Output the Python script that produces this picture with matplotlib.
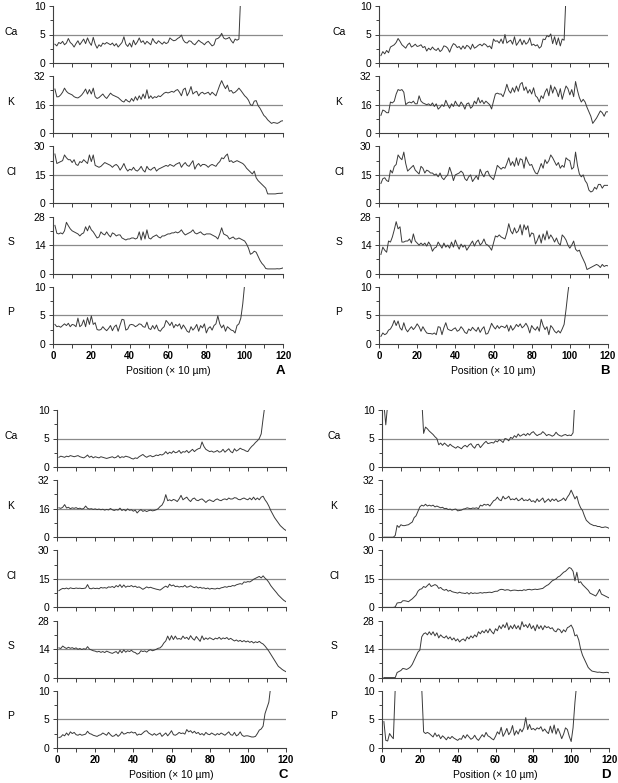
#!/usr/bin/env python3
"""
Element line scans (Ca, K, Cl, S, P) across four sections A-D.
Counts vs position (x 10 um), one stacked strip per element, grey line at half scale.
"""
import numpy as np
import matplotlib
matplotlib.use("Agg")
import matplotlib.pyplot as plt

NA = np.nan  # off-scale (trace runs above the top of the strip)

POS = list(range(1, 121))  # position (x 10 um)
ELEMENTS = ["Ca", "K", "Cl", "S", "P"]
Y_TOP = [10, 32, 30, 28, 10]
X_TICKS = list(range(0, 121, 10))
PANEL_LETTERS = ["A", "B", "C", "D"]

# ── panel A ─────────────────────────────────────────────────────────────────
A_CA = [3.3, 3.0, 3.6, 3.4, 3.8, 3.2, 3.5, 4.3, 3.6, 3.3,
        2.8, 3.4, 3.9, 3.2, 3.7, 4.2, 3.4, 4.4, 3.6, 3.1,
        4.5, 3.3, 2.6, 3.2, 2.9, 3.5, 3.3, 3.6, 3.4, 3.2,
        3.5, 3.0, 3.4, 2.8, 3.2, 3.6, 4.6, 3.3, 2.9, 3.5,
        2.8, 4.0, 3.2, 3.7, 4.4, 3.6, 3.9, 3.3, 3.8, 3.5,
        3.2, 4.3, 3.7, 3.4, 3.9, 3.6, 3.3, 3.7, 3.4, 3.6,
        4.4, 4.1, 3.9, 4.0, 4.3, 4.5, 4.9, 4.0, 3.6, 3.5,
        3.9, 3.8, 3.4, 3.2, 3.6, 4.0, 3.7, 3.5, 3.2, 3.6,
        3.8, 3.4, 3.0, 3.2, 4.2, 4.3, 4.6, 5.2, 4.4, 4.2,
        4.3, 4.5, 3.9, 3.5, 4.2, 4.0, 4.2, 12.5, NA, NA,
        NA, NA, NA, NA, NA, NA, NA, NA, NA, NA,
        NA, NA, NA, NA, NA, NA, NA, NA, NA, NA]
A_K = [24.8, 20.4, 20.5, 21.5, 23.0, 25.3, 23.5, 22.5, 22.0, 21.5,
       20.5, 20.0, 19.8, 20.5, 21.5, 23.0, 24.8, 22.0, 24.5, 22.0,
       25.3, 20.5, 19.5, 20.0, 21.0, 22.0, 20.5, 19.5, 21.0, 22.5,
       21.5, 21.0, 20.5, 20.0, 19.0, 18.0, 17.5, 19.0, 18.0, 17.5,
       19.5, 18.0, 20.5, 18.5, 21.0, 19.0, 22.0, 19.5, 24.4, 19.5,
       21.0, 19.5, 20.5, 20.0, 21.0, 20.5, 21.5, 22.5, 23.0, 22.6,
       23.0, 23.5, 23.0, 24.0, 24.5, 23.0, 21.0, 24.5, 25.3, 21.0,
       23.0, 26.2, 22.0, 23.0, 23.5, 21.0, 22.5, 23.0, 22.0, 22.5,
       23.0, 21.5, 23.0, 22.0, 21.0, 24.0, 27.0, 29.5, 27.0, 25.0,
       27.0, 23.5, 24.0, 22.5, 23.0, 24.0, 25.3, 24.0, 22.5, 21.0,
       20.0, 18.5, 16.0, 15.5, 18.0, 18.3, 15.5, 14.0, 12.0, 10.0,
       9.0, 7.5, 6.5, 5.5, 6.0, 5.8, 5.5, 6.0, 6.8, 7.0]
A_CL = [26.0, 21.0, 21.5, 22.0, 22.5, 25.5, 24.0, 23.0, 23.0, 21.5,
        23.0, 20.5, 20.0, 22.0, 21.5, 23.0, 22.0, 21.0, 25.5, 22.0,
        25.5, 20.0, 19.5, 19.0, 19.5, 20.5, 21.5, 21.0, 20.5, 20.0,
        19.0, 20.0, 20.5, 19.5, 17.5, 19.0, 21.0, 18.5, 17.0, 18.0,
        17.5, 19.0, 17.5, 17.0, 18.0, 19.5, 17.5, 16.5, 19.5, 18.0,
        17.5, 18.5, 19.0, 17.0, 18.0, 18.5, 19.0, 19.5, 20.0, 19.5,
        20.5, 20.0, 19.5, 20.5, 21.0, 21.5, 19.0, 20.5, 21.5, 20.0,
        19.5, 21.0, 22.5, 18.0, 20.0, 21.0, 19.5, 20.5, 20.5, 20.0,
        19.0, 20.0, 20.5, 20.0, 19.5, 21.0, 22.0, 24.0, 23.5, 25.0,
        26.0, 22.0, 22.5, 21.5, 22.0, 22.5, 22.0, 21.5, 21.0, 20.0,
        18.5, 17.5, 16.5, 15.5, 17.0, 13.5, 12.0, 11.0, 10.0, 9.0,
        8.0, 5.0, 5.0, 5.0, 5.0, 5.0, 5.2, 5.3, 5.3, 5.5]
A_S = [23.7, 19.8, 19.5, 20.0, 19.5, 21.0, 25.2, 23.5, 22.0, 21.0,
       20.5, 20.0, 19.5, 18.5, 19.5, 20.0, 23.0, 21.0, 23.5, 21.5,
       20.5, 19.0, 17.5, 18.0, 20.5, 19.5, 19.0, 20.5, 19.0, 18.0,
       20.0, 19.5, 18.5, 19.0, 19.0, 17.5, 17.0, 16.5, 17.0, 17.0,
       17.5, 17.5, 17.0, 17.5, 20.5, 16.5, 20.5, 17.0, 21.5, 17.5,
       17.0, 18.0, 18.5, 19.0, 18.0, 17.5, 18.5, 18.5, 19.0, 19.5,
       19.5, 20.0, 20.0, 20.5, 20.0, 20.5, 21.5, 20.0, 19.0, 19.5,
       20.0, 20.5, 21.5, 20.0, 19.5, 20.0, 20.5, 19.5, 19.0, 19.5,
       19.5, 19.5, 19.0, 18.5, 18.0, 17.0, 19.5, 22.5, 19.5, 19.0,
       18.5, 17.0, 17.5, 18.0, 17.0, 17.0, 17.5, 17.0, 16.5, 16.0,
       14.5, 12.5, 9.5, 10.0, 11.0, 10.5, 8.5, 6.5, 5.0, 4.0,
       2.5, 2.3, 2.3, 2.3, 2.3, 2.3, 2.4, 2.3, 2.5, 2.8]
A_P = [3.4, 3.0, 3.1, 2.9, 3.2, 3.5, 3.2, 3.6, 3.0, 3.4,
       3.3, 3.0, 4.5, 3.0, 3.3, 4.2, 3.0, 4.6, 3.4, 4.9,
       3.4, 3.7, 2.5, 2.4, 2.5, 3.0, 2.6, 2.3, 2.7, 3.2,
       2.3, 3.0, 3.3, 2.2, 3.3, 4.3, 4.2, 2.4, 2.6, 3.3,
       3.4, 3.3, 3.0, 3.2, 3.5, 3.4, 3.0, 2.9, 3.8, 2.7,
       2.5, 3.2, 2.6, 3.3, 2.4, 2.2, 2.7, 3.0, 4.1, 3.7,
       3.2, 3.8, 2.8, 3.4, 3.1, 3.5, 2.6, 3.3, 2.8, 2.2,
       2.0, 3.0, 2.4, 2.8, 3.4, 2.2, 3.2, 2.8, 3.5, 1.9,
       2.7, 3.0, 2.4, 3.2, 3.5, 4.9, 3.5, 2.8, 3.3, 2.2,
       3.0, 2.7, 2.4, 2.3, 1.9, 3.2, 3.5, 4.5, 7.0, 10.5,
       NA, NA, NA, NA, NA, NA, NA, NA, NA, NA,
       NA, NA, NA, NA, NA, NA, NA, NA, NA, NA]

# ── panel B ─────────────────────────────────────────────────────────────────
B_CA = [1.3, 2.0, 1.6, 2.2, 1.8, 2.8, 3.0, 3.2, 3.6, 4.3,
        3.8, 3.2, 2.9, 2.6, 3.2, 3.5, 2.8, 3.0, 3.3, 2.9,
        3.0, 3.2, 2.7, 2.9, 2.1, 2.6, 2.3, 2.8, 2.4, 2.2,
        2.6, 2.0, 2.3, 3.0, 2.9, 2.6, 1.9, 2.8, 3.4, 3.2,
        2.7, 2.9, 2.4, 3.0, 2.5, 3.1, 2.9, 2.4, 3.3, 2.6,
        2.8, 3.1, 3.3, 3.0, 3.4, 3.2, 2.8, 3.0, 2.5, 4.2,
        3.8, 3.9, 3.5, 4.2, 3.4, 5.0, 3.5, 3.8, 4.0, 3.3,
        4.6, 3.1, 3.6, 4.2, 3.2, 4.0, 3.3, 3.6, 4.4, 3.1,
        3.3, 3.0, 3.2, 2.6, 2.9, 4.2, 4.1, 4.8, 4.6, 5.1,
        3.4, 4.6, 3.2, 4.4, 3.0, 4.2, 4.0, 12.0, NA, NA,
        NA, NA, NA, NA, NA, NA, NA, NA, NA, NA,
        NA, NA, NA, NA, NA, NA, NA, NA, NA, NA]
B_K = [10.0, 13.0, 12.5, 11.5, 11.5, 17.5, 17.0, 18.0, 22.0, 24.5,
       24.0, 24.5, 23.0, 16.0, 17.0, 17.5, 17.0, 18.0, 16.5, 16.5,
       21.0, 18.0, 17.0, 16.5, 16.0, 16.5, 15.5, 17.0, 15.0, 16.5,
       13.5, 14.5, 16.0, 15.0, 18.5, 16.0, 14.0, 16.5, 15.0, 18.0,
       16.0, 15.0, 17.5, 16.0, 13.5, 16.5, 17.0, 14.0, 15.0, 18.0,
       16.5, 20.0, 17.0, 18.5, 16.5, 18.0, 17.0, 16.0, 13.6, 18.0,
       22.0, 22.5, 22.0, 22.0, 20.5, 23.5, 27.5, 24.0, 22.5, 25.5,
       23.0, 26.5, 23.5, 27.5, 28.5, 24.0, 26.0, 22.5, 24.5, 22.0,
       25.5, 21.0, 20.0, 17.5, 21.0, 19.5, 23.0, 25.0, 21.0, 27.0,
       22.5, 26.0, 24.0, 20.5, 25.0, 19.0, 23.0, 26.5, 25.0, 21.5,
       24.5, 20.5, 29.0, 24.0, 20.0, 17.5, 19.0, 17.5, 14.5, 12.0,
       9.5, 5.5, 7.0, 8.5, 10.5, 12.5, 11.5, 9.5, 12.0, 12.0]
B_CL = [10.5, 13.0, 13.5, 12.0, 11.5, 17.5, 16.0, 19.5, 20.5, 25.5,
        24.0, 23.0, 27.0, 21.0, 17.0, 18.0, 19.0, 20.0, 17.5, 16.5,
        15.5, 19.5, 18.5, 16.0, 17.5, 17.0, 16.0, 16.0, 15.0, 15.5,
        14.0, 16.0, 13.5, 12.5, 14.0, 15.0, 19.0, 16.0, 12.0, 15.0,
        15.5, 16.0, 17.0, 16.0, 13.0, 12.0, 14.0, 15.0, 11.5, 13.0,
        14.5, 12.5, 18.0, 15.5, 14.0, 16.5, 17.0, 14.5, 13.5, 12.5,
        16.0, 20.0, 19.0, 18.0, 19.0, 18.5, 21.0, 24.0, 20.0, 22.0,
        19.5, 24.0, 20.0, 23.5, 23.0, 18.5, 24.5, 22.0, 20.0, 20.5,
        18.0, 16.0, 15.5, 18.0, 21.0, 18.5, 23.0, 21.0, 22.5, 25.5,
        24.0, 22.0, 20.0, 21.5, 18.5, 20.0, 19.0, 24.0, 23.0, 22.5,
        18.0, 19.0, 27.0, 20.0, 15.5, 14.0, 15.0, 12.0, 10.5, 7.0,
        6.0, 6.5, 8.5, 7.5, 10.0, 10.0, 8.0, 9.5, 9.5, 9.5]
B_S = [9.4, 13.0, 11.5, 10.5, 16.0, 15.5, 18.0, 21.5, 25.5, 22.0,
       23.0, 15.5, 15.5, 16.0, 16.0, 17.0, 15.0, 19.5, 16.0, 15.0,
       14.0, 15.0, 14.0, 15.0, 13.5, 15.5, 14.0, 11.0, 12.5, 13.0,
       15.5, 14.0, 12.5, 15.0, 13.0, 14.0, 12.5, 15.5, 13.0, 16.5,
       14.0, 12.0, 14.5, 13.0, 14.0, 11.5, 13.0, 14.5, 16.0, 13.5,
       15.5, 16.5, 14.0, 15.0, 17.0, 14.5, 14.0, 13.0, 11.5, 15.0,
       18.5, 18.0, 19.0, 18.0, 17.5, 17.0, 20.0, 24.5, 21.0, 19.5,
       22.5, 20.0, 21.0, 24.0, 19.0, 24.0, 21.5, 23.5, 18.0, 20.0,
       19.5, 14.5, 16.5, 19.0, 15.0, 19.5, 16.5, 21.0, 17.0, 19.0,
       17.5, 15.5, 17.5, 15.0, 14.0, 19.0, 18.0, 16.5, 14.0, 12.5,
       14.0, 16.0, 12.0, 11.0, 11.5, 9.0, 7.0, 5.0, 2.0, 2.5,
       3.0, 3.5, 4.0, 4.5, 4.0, 3.0, 4.5, 3.5, 4.0, 3.8]
B_P = [1.3, 1.9, 1.6, 1.8, 2.4, 2.6, 3.2, 4.1, 3.2, 4.0,
       2.8, 2.4, 3.7, 2.6, 2.1, 2.6, 3.0, 2.5, 2.9, 3.5,
       3.0, 2.2, 3.0, 2.4, 1.9, 1.8, 1.8, 1.7, 1.9, 1.6,
       3.0, 2.9, 1.6, 2.8, 3.7, 2.6, 2.4, 2.3, 2.6, 2.8,
       2.2, 2.4, 3.0, 2.6, 2.0, 1.8, 2.6, 2.3, 2.9, 2.5,
       2.2, 2.9, 2.0, 2.6, 3.0, 1.7, 1.8, 2.6, 3.6, 3.0,
       2.6, 3.2, 2.7, 3.1, 3.0, 2.8, 3.3, 2.2, 3.2, 2.4,
       2.8, 3.4, 3.0, 3.5, 2.8, 3.1, 3.6, 3.0, 1.9, 3.2,
       2.7, 2.4, 3.0, 2.2, 4.3, 3.2, 2.5, 3.0, 1.6, 3.2,
       2.8, 2.2, 1.9, 2.3, 1.9, 2.6, 3.4, 6.0, 9.0, 11.5,
       NA, NA, NA, NA, NA, NA, NA, NA, NA, NA,
       NA, NA, NA, NA, NA, NA, NA, NA, NA, NA]

# ── panel C ─────────────────────────────────────────────────────────────────
C_CA = [1.7, 1.9, 1.8, 1.7, 1.9, 1.8, 2.0, 1.9, 1.8, 1.9,
        2.0, 1.8, 1.7, 1.6, 1.8, 2.1, 1.7, 1.9, 1.6, 1.8,
        1.7, 1.6, 1.8, 1.7, 1.6, 1.5, 1.6, 1.7, 1.8, 1.6,
        1.7, 2.0, 1.6, 1.8, 1.7, 1.9, 1.8, 1.7, 1.5, 1.4,
        1.6, 1.5, 1.8, 2.0, 2.2, 1.9, 1.7, 1.9, 2.0, 1.8,
        1.9, 2.1, 2.0, 2.2, 2.1, 2.3, 2.7, 2.3, 2.6, 2.4,
        2.8, 2.5, 2.6, 2.9, 2.4, 2.7, 2.6, 2.9, 2.5, 2.8,
        3.1, 2.7, 3.0, 3.2, 3.3, 4.4, 3.6, 3.1, 2.9, 2.7,
        2.8, 2.6, 2.7, 2.9, 2.6, 2.7, 3.1, 2.6, 2.9, 3.2,
        2.7, 2.5, 3.2, 2.8, 3.0, 3.3, 3.1, 3.0, 2.8, 2.7,
        3.2, 3.6, 3.9, 4.3, 4.6, 5.0, 5.8, 8.5, 11.0, NA,
        NA, NA, NA, NA, NA, NA, NA, NA, NA, NA]
C_K = [16.5, 16.2, 16.8, 18.3, 16.4, 16.8, 16.0, 16.5, 16.2, 16.6,
       16.0, 16.3, 15.8, 16.1, 17.5, 16.2, 15.8, 16.0, 15.6, 15.9,
       15.5, 15.8, 15.4, 15.7, 15.2, 15.6, 15.3, 16.1, 15.4, 15.0,
       15.5, 15.2, 16.3, 15.0, 15.6, 14.8, 15.9, 15.1, 15.4, 14.6,
       15.2, 13.6, 14.8, 15.5, 14.5, 15.0, 14.4, 14.9, 15.2, 14.8,
       15.0, 15.4, 16.0, 17.2, 18.0, 20.0, 23.9, 20.5, 21.0, 20.4,
       21.2, 20.8, 20.0, 21.5, 23.5, 21.0, 21.8, 22.5, 21.0, 20.0,
       21.5, 22.0, 20.8, 20.5, 21.2, 21.5, 20.6, 19.5, 20.5, 21.0,
       20.4, 20.0, 21.0, 21.5, 20.8, 20.5, 21.2, 21.5, 21.0, 22.0,
       21.4, 21.5, 22.2, 22.0, 21.2, 21.0, 21.6, 22.0, 21.4, 21.0,
       22.0, 21.0, 22.5, 21.0, 22.0, 21.0, 22.5, 23.0, 21.0, 19.5,
       17.5, 15.0, 13.0, 11.0, 9.5, 8.0, 6.5, 5.5, 4.5, 3.8]
C_CL = [8.8, 9.5, 10.0, 9.8, 10.2, 9.7, 10.3, 10.0, 9.9, 10.2,
        10.0, 10.1, 9.9, 10.0, 10.2, 12.0, 10.0, 9.8, 10.2, 9.9,
        10.1, 9.8, 10.5, 10.2, 10.4, 10.1, 10.8, 10.6, 11.0, 10.4,
        11.5, 10.8, 12.0, 10.5, 11.8, 10.6, 11.2, 11.0, 11.5, 10.8,
        11.2, 10.5, 10.8, 10.2, 9.5, 10.1, 10.8, 10.3, 10.6, 10.2,
        9.9, 9.6, 9.4, 9.1, 9.8, 10.6, 11.2, 10.5, 12.2, 11.3,
        11.8, 10.9, 11.2, 10.7, 11.0, 10.8, 11.6, 10.6, 10.9, 11.4,
        10.8, 10.4, 10.9, 10.2, 10.6, 10.1, 10.3, 9.8, 10.2, 9.6,
        10.0, 9.8, 9.7, 10.1, 9.8, 10.3, 10.5, 10.9, 10.6, 11.1,
        11.0, 11.5, 11.3, 11.9, 12.2, 12.5, 12.2, 13.4, 13.2, 13.6,
        13.4, 14.0, 14.8, 15.3, 15.8, 16.3, 15.5, 16.6, 15.4, 14.5,
        13.2, 11.5, 10.2, 9.0, 7.8, 6.5, 5.5, 4.5, 3.6, 3.0]
C_S = [14.6, 14.3, 15.5, 14.8, 14.3, 14.9, 14.4, 14.7, 14.2, 14.6,
       13.9, 14.3, 13.8, 14.2, 13.9, 15.2, 14.0, 13.6, 13.2, 13.0,
       12.6, 12.9, 12.4, 12.8, 12.3, 13.0, 12.6, 12.2, 11.9, 12.4,
       12.8, 11.8, 13.4, 12.2, 13.6, 12.5, 13.2, 12.8, 13.4, 12.6,
       12.3, 11.5, 11.9, 13.2, 12.8, 13.1, 12.5, 13.3, 13.7, 13.2,
       13.5, 13.9, 14.4, 14.6, 15.5, 17.0, 18.0, 20.4, 18.4, 20.6,
       18.7, 20.4, 18.9, 19.2, 18.8, 20.4, 19.2, 19.8, 18.7, 20.6,
       19.2, 18.4, 20.2, 19.0, 17.8, 20.5, 18.6, 19.5, 18.8, 19.6,
       19.1, 18.6, 19.4, 19.0, 19.8, 18.8, 19.5, 19.1, 19.7, 18.7,
       19.3, 18.6, 18.0, 18.5, 17.8, 18.3, 17.6, 18.2, 17.5, 18.0,
       17.3, 17.8, 17.0, 17.6, 17.2, 17.8, 17.0, 16.5, 15.5, 14.3,
       13.0, 11.5, 10.0, 8.5, 7.0, 5.5, 4.8, 4.0, 3.4, 2.9]
C_P = [1.8, 1.9, 2.3, 2.1, 2.6, 2.2, 2.8, 2.5, 2.7, 2.3,
       2.2, 2.4, 2.2, 2.3, 2.4, 2.9, 2.5, 2.4, 2.2, 2.1,
       2.0, 2.2, 2.3, 2.6, 2.4, 2.2, 2.7, 2.3, 2.0, 2.1,
       2.4, 2.0, 2.3, 2.8, 2.4, 2.5, 2.7, 2.6, 2.8, 2.6,
       2.7, 2.2, 2.4, 2.3, 2.6, 2.9, 3.0, 2.6, 2.4, 2.2,
       2.5, 2.2, 2.4, 2.6, 2.0, 2.3, 2.6, 2.1, 2.5, 3.0,
       2.3, 2.2, 2.4, 2.7, 2.5, 2.6, 2.4, 3.2, 2.8, 3.0,
       2.6, 2.9, 2.5, 2.7, 2.3, 2.5, 2.2, 2.7, 2.4, 2.3,
       2.6, 2.4, 2.2, 2.5, 2.3, 2.6, 2.4, 2.2, 2.5, 2.8,
       2.3, 2.2, 2.7, 2.1, 2.3, 2.8, 2.2, 2.0, 2.1, 2.1,
       2.0, 1.9, 1.9, 2.0, 2.5, 3.1, 3.3, 3.8, 6.0, 7.0,
       8.0, 10.8, NA, NA, NA, NA, NA, NA, NA, NA]

# ── panel D ─────────────────────────────────────────────────────────────────
D_CA = [11.0, 7.4, 11.0, NA, NA, NA, NA, NA, NA, NA,
        NA, NA, NA, NA, NA, NA, NA, NA, NA, NA,
        12.0, 5.9, 7.0, 6.7, 6.3, 6.0, 5.7, 5.3, 5.0, 3.9,
        4.2, 3.8, 4.2, 3.9, 3.6, 4.0, 3.7, 3.5, 3.3, 3.6,
        3.4, 3.2, 3.6, 3.8, 3.5, 3.9, 4.1, 3.6, 3.3, 3.9,
        4.0, 3.4, 3.8, 4.2, 4.5, 4.1, 4.2, 4.3, 4.2, 4.6,
        4.4, 4.8, 4.6, 4.3, 5.0, 4.9, 4.6, 5.2, 5.0, 5.5,
        5.2, 5.8, 5.4, 5.6, 5.8, 5.5, 5.9, 5.6, 6.0, 6.2,
        5.8, 5.5, 5.7, 5.8, 6.2, 5.9, 5.5, 5.7, 5.6, 5.4,
        5.6, 6.1, 5.7, 5.5, 5.4, 5.6, 5.7, 5.5, 5.6, 5.5,
        6.0, 12.0, NA, NA, NA, NA, NA, NA, NA, NA,
        NA, NA, NA, NA, NA, NA, NA, NA, NA, NA]
D_K = [0.0, 0.0, 0.0, 0.0, 0.0, 0.0, 1.0, 6.6, 5.5, 7.0,
       6.5, 6.5, 6.8, 7.0, 7.8, 8.5, 11.0, 12.0, 14.5, 17.0,
       18.0, 17.5, 18.5, 17.5, 18.0, 17.5, 18.0, 17.0, 17.5, 17.0,
       16.5, 16.8, 16.0, 16.2, 15.5, 15.8, 15.2, 15.6, 15.8, 14.8,
       15.0, 15.2, 15.8, 16.0, 16.5, 16.2, 16.0, 16.4, 16.2, 16.5,
       16.0, 18.0, 17.5, 18.5, 18.0, 18.5, 17.5, 19.0, 20.5, 21.0,
       22.5, 21.0, 20.5, 23.0, 21.5, 22.0, 23.0, 21.0, 21.5, 21.0,
       22.0, 20.5, 21.0, 22.0, 20.5, 21.0, 20.5, 21.5, 20.0, 20.5,
       19.5, 21.5, 20.0, 21.0, 22.0, 19.5, 20.5, 21.5, 20.0, 21.5,
       20.5, 21.5, 20.0, 20.5, 21.0, 22.0, 20.5, 22.5, 24.0, 26.4,
       24.0, 21.5, 23.0, 19.0, 16.5, 15.0, 12.0, 9.5, 8.5, 7.5,
       7.0, 6.5, 6.5, 6.0, 6.0, 5.5, 5.5, 5.8, 5.5, 5.0]
D_CL = [0.0, 0.0, 0.0, 0.0, 0.0, 0.0, 0.3, 2.3, 2.5, 2.5,
        3.5, 3.5, 3.3, 3.0, 3.8, 4.5, 5.5, 6.5, 8.5, 9.5,
        9.8, 11.0, 10.5, 11.5, 12.5, 11.0, 11.5, 12.0, 11.5, 10.0,
        10.5, 9.5, 9.0, 9.5, 8.5, 9.0, 8.3, 8.0, 7.8, 7.5,
        8.0, 7.6, 7.5, 7.3, 7.8, 7.0, 7.8, 7.3, 7.6, 7.4,
        7.5, 7.8, 7.5, 7.8, 7.7, 7.9, 8.0, 7.8, 8.2, 8.5,
        8.5, 9.2, 9.5, 9.4, 9.0, 9.3, 9.2, 8.7, 9.0, 9.1,
        9.0, 8.8, 9.0, 8.8, 9.3, 9.0, 9.4, 9.5, 9.2, 9.4,
        9.6, 9.4, 9.6, 9.8, 10.0, 10.8, 11.5, 12.0, 13.0, 14.0,
        14.5, 15.0, 16.0, 16.5, 17.5, 18.5, 19.0, 20.0, 21.0, 20.5,
        19.0, 14.0, 18.5, 13.0, 13.5, 12.0, 11.0, 10.0, 9.0, 7.5,
        7.0, 6.5, 6.0, 7.5, 9.5, 7.0, 6.5, 6.0, 5.5, 5.0]
D_S = [0.0, 0.0, 0.0, 0.0, 0.0, 0.0, 0.0, 2.5, 3.0, 3.5,
       4.5, 4.3, 4.0, 4.5, 5.2, 6.5, 8.5, 10.5, 12.5, 13.5,
       20.0, 21.5, 22.0, 21.0, 22.5, 21.0, 22.5, 20.5, 22.0, 19.5,
       21.0, 20.0, 19.5, 20.5, 19.0, 20.0, 18.5, 19.5, 18.0, 19.0,
       17.5, 18.5, 19.0, 18.0, 20.0, 19.0, 20.5, 19.5, 21.0, 20.0,
       22.5, 21.5, 23.0, 22.0, 23.5, 22.0, 24.0, 22.5, 21.5, 24.0,
       23.0, 25.5, 24.0, 26.0, 24.5, 27.0, 23.5, 25.5, 24.0, 26.0,
       24.0, 25.5, 23.5, 27.5, 25.0, 26.0, 24.5, 26.5, 24.0, 25.5,
       23.0, 26.0, 24.0, 25.5, 23.5, 25.5, 24.5, 25.0, 24.0, 24.5,
       23.0, 22.5, 24.0, 23.5, 22.0, 23.5, 22.5, 24.5, 25.0, 25.8,
       24.0, 20.5, 21.0, 18.5, 14.0, 11.0, 9.0, 7.0, 5.0, 4.0,
       3.2, 3.0, 2.8, 2.6, 2.7, 2.5, 2.4, 2.5, 2.6, 2.3]
D_P = [4.6, 1.3, 1.2, 2.5, 2.0, 1.6, 10.5, NA, NA, NA,
       NA, NA, NA, NA, NA, NA, NA, NA, NA, NA,
       10.5, 2.8, 2.5, 2.7, 2.5, 2.2, 1.9, 2.6, 2.0, 2.3,
       1.6, 2.1, 1.8, 1.4, 1.9, 1.6, 2.0, 1.7, 1.5, 1.3,
       1.6, 1.5, 2.2, 1.7, 2.3, 1.9, 1.5, 1.7, 2.2, 1.6,
       1.3, 1.8, 2.3, 1.9, 2.7, 2.1, 1.9, 1.6, 1.4, 2.0,
       2.8, 2.4, 3.6, 2.0, 2.6, 3.4, 2.3, 2.8, 3.9, 2.2,
       3.0, 2.4, 3.3, 2.8, 3.5, 5.3, 3.2, 4.1, 3.2, 3.4,
       3.1, 3.5, 3.3, 3.7, 2.9, 3.3, 2.8, 2.5, 3.8, 2.6,
       4.0, 2.4, 3.4, 2.6, 1.6, 2.4, 3.5, 3.2, 2.0, 1.1,
       3.5, 8.0, 11.5, NA, NA, NA, NA, NA, NA, NA,
       NA, NA, NA, NA, NA, NA, NA, NA, NA, NA]

PANEL_SERIES = [
    [A_CA, A_K, A_CL, A_S, A_P],
    [B_CA, B_K, B_CL, B_S, B_P],
    [C_CA, C_K, C_CL, C_S, C_P],
    [D_CA, D_K, D_CL, D_S, D_P],
]

# ── layout (pixels of the 618 x 783 figure) ─────────────────────────────────
W, H = 618, 783
AX_H = 57
# (left, right, first strip top, element label x)
PANEL_GEOM = [
    (53, 283, 6, 11),
    (379, 608, 6, 339),
    (57, 286, 410, 11),
    (382, 609, 410, 334),
]
STRIP_STEP = 70.2

LINE_C = "#3a3a3a"
REF_C = "#8a8a8a"
SPINE_C = "#404040"
FS = 7.5

plt.rcParams["font.family"] = ["Liberation Sans", "DejaVu Sans"]


def px_rect(left, top, right, bottom):
    return [left / W, 1 - bottom / H, (right - left) / W, (bottom - top) / H]


def draw_panel(fig, series, geom, letter):
    left, right, top0, lab_x = geom
    for i, (el, ytop, ys) in enumerate(zip(ELEMENTS, Y_TOP, series)):
        assert len(ys) == len(POS), (letter, el, len(ys))
        top = top0 + i * STRIP_STEP
        ax = fig.add_axes(px_rect(left, top, right, top + AX_H))
        ax.axhline(ytop / 2, color=REF_C, lw=0.9, zorder=1)
        ax.plot(POS, ys, color=LINE_C, lw=0.7, zorder=2)
        ax.set_xlim(0, 120)
        ax.set_ylim(0, ytop)
        for s in ("top", "right"):
            ax.spines[s].set_visible(False)
        for s in ("left", "bottom"):
            ax.spines[s].set_color(SPINE_C)
            ax.spines[s].set_linewidth(0.8)
        ax.set_yticks([0, ytop / 2, ytop])
        ax.set_yticklabels([f"{v:g}" for v in (0, ytop / 2, ytop)], fontsize=FS)
        ax.set_yticks([ytop / 4, 3 * ytop / 4], minor=True)
        ax.set_xticks(X_TICKS)
        ax.tick_params(axis="both", which="both", direction="out", color=SPINE_C,
                       width=0.7, pad=2.5)
        ax.tick_params(axis="both", which="major", length=3)
        ax.tick_params(axis="y", which="minor", length=2)
        if i == len(ELEMENTS) - 1:
            ax.set_xticklabels([str(v) if v % 20 == 0 else "" for v in X_TICKS],
                               fontsize=7, fontweight="bold")
        else:
            ax.set_xticklabels([])
        yc = top + AX_H * 0.45
        fig.text(lab_x / W, 1 - yc / H, el, ha="center", va="center", fontsize=FS)

    bottom = top0 + 4 * STRIP_STEP + AX_H
    fig.text((left + right) / 2 / W, 1 - (bottom + 27) / H, "Position (\u00d7 10 \u00b5m)",
             ha="center", va="center", fontsize=FS)
    fig.text((right - 3) / W, 1 - (bottom + 27) / H, letter, ha="center", va="center",
             fontsize=9.5, fontweight="bold")


def main() -> None:
    fig = plt.figure(figsize=(W / 100, H / 100), dpi=100)
    for series, geom, letter in zip(PANEL_SERIES, PANEL_GEOM, PANEL_LETTERS):
        draw_panel(fig, series, geom, letter)
    fig.savefig("out.png", dpi=100)
    plt.close(fig)


if __name__ == "__main__":
    main()
